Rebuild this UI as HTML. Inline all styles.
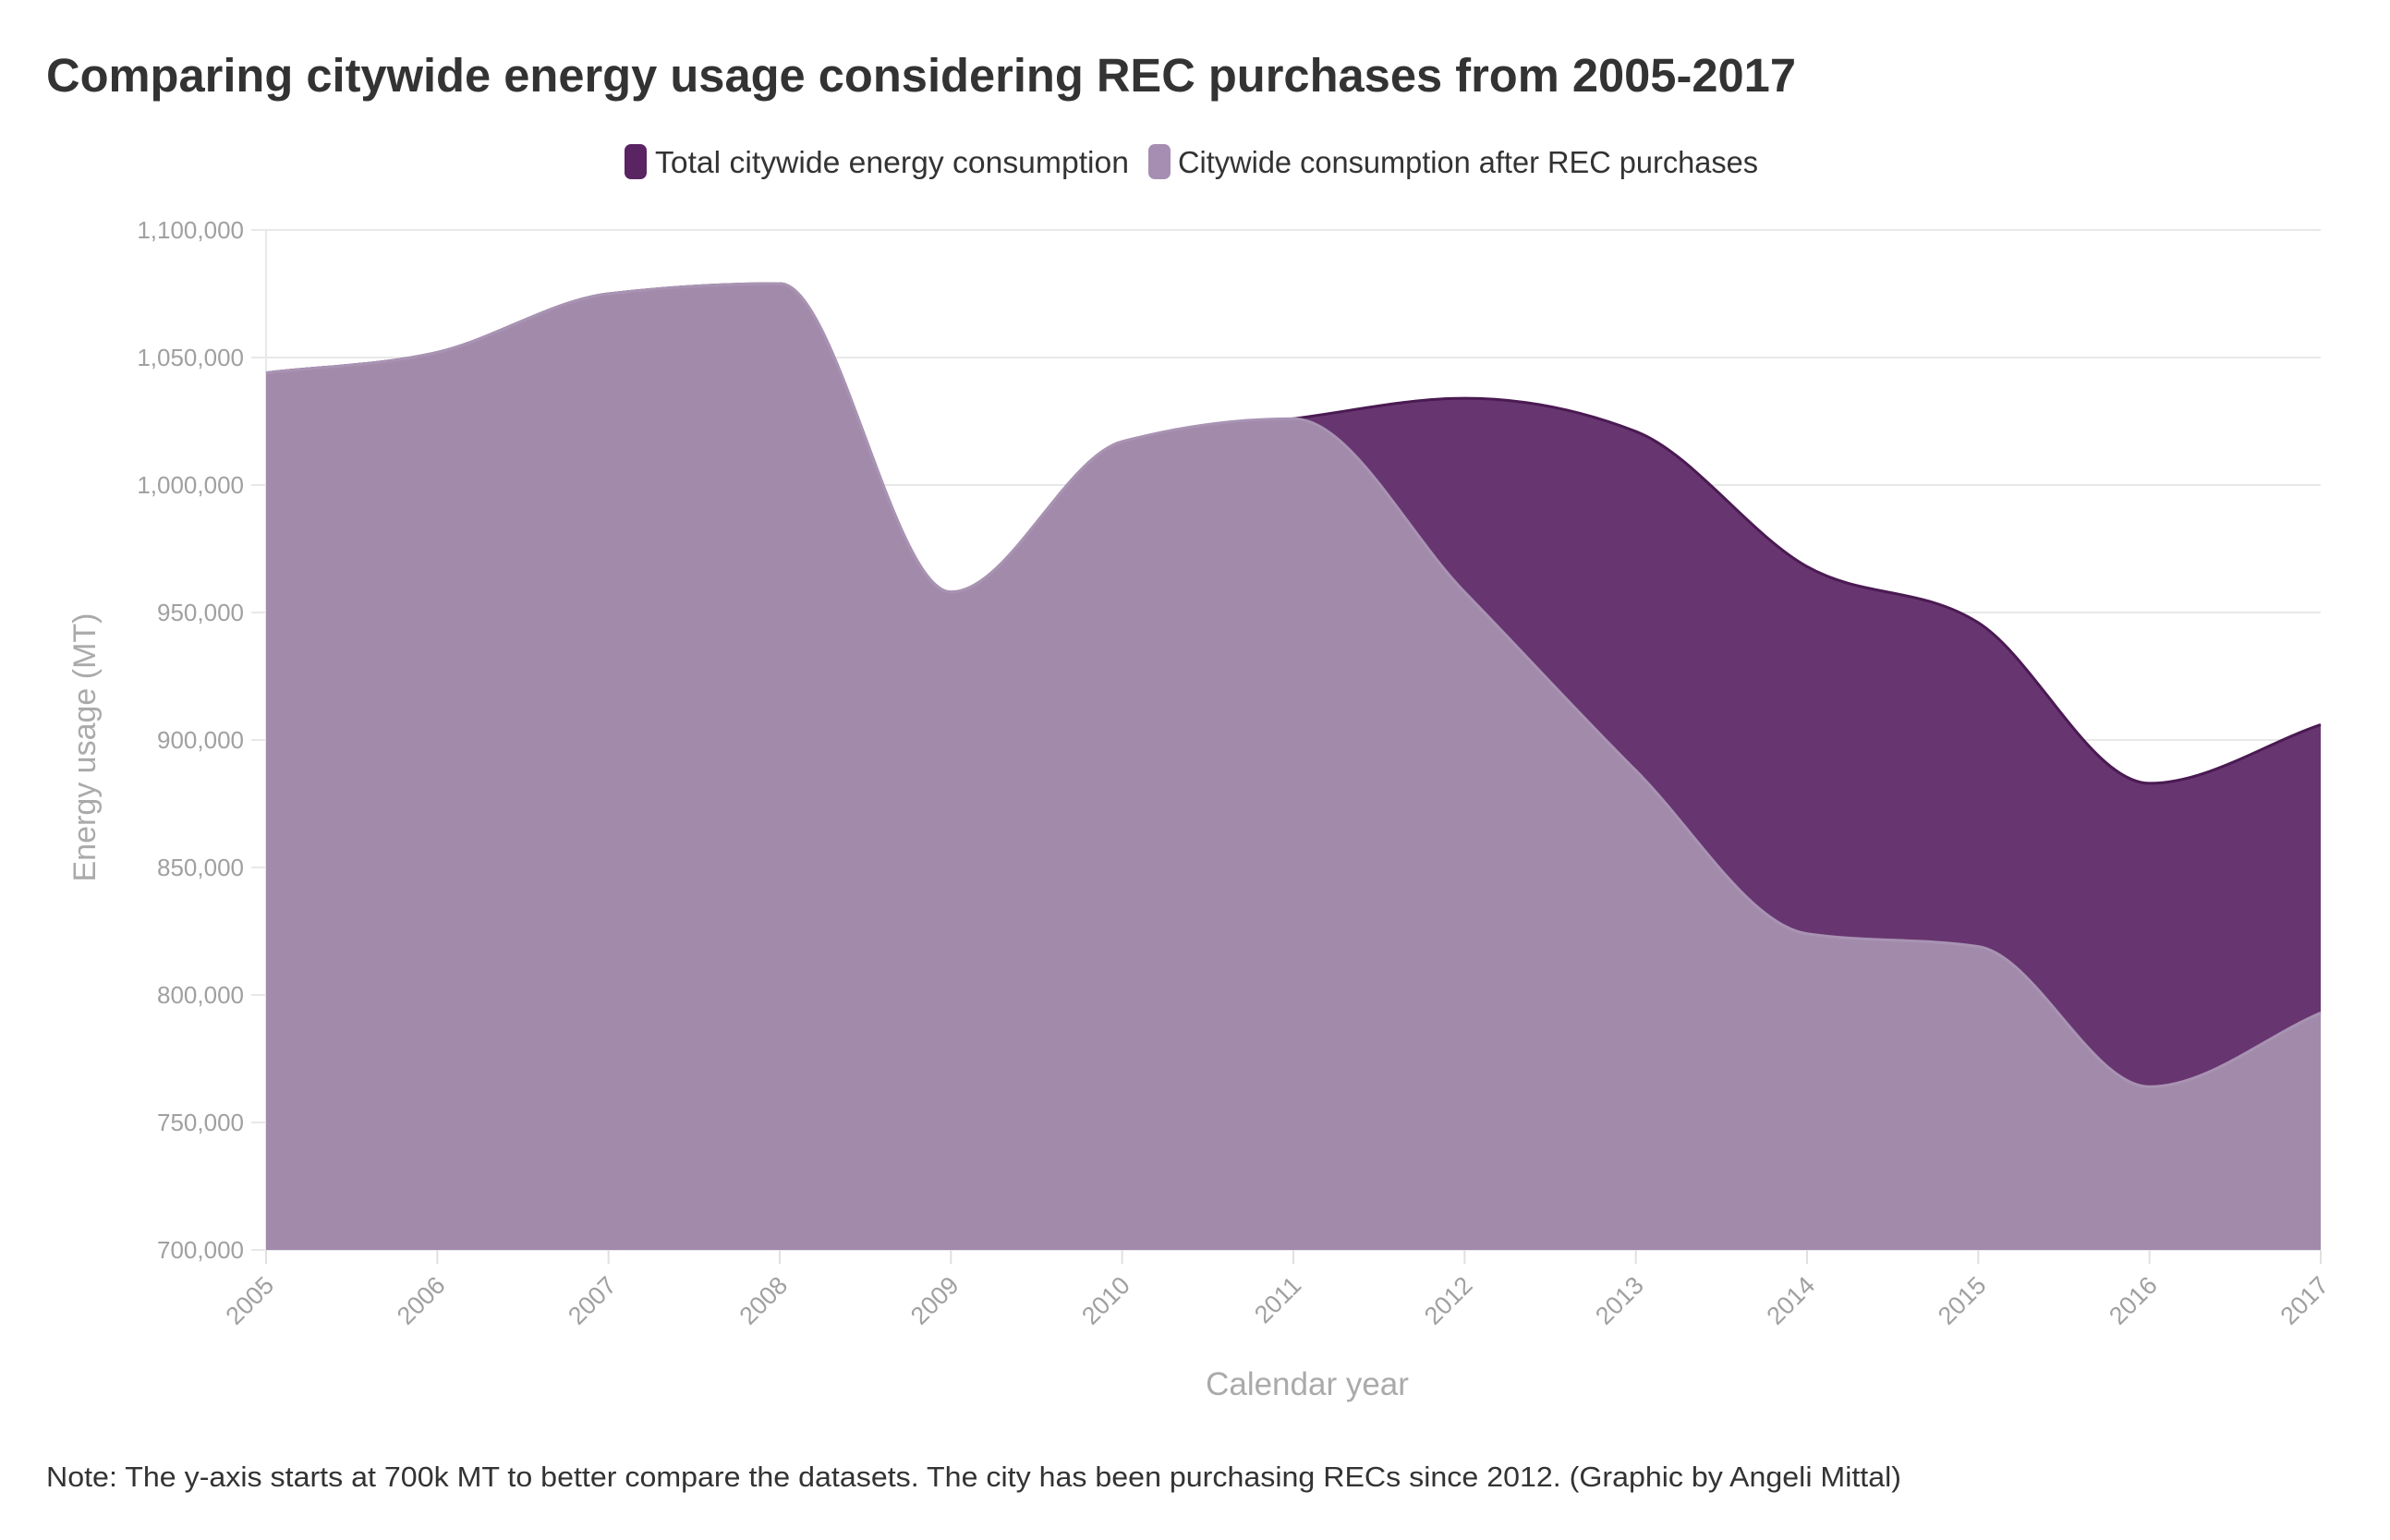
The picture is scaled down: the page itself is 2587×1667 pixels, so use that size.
<!DOCTYPE html>
<html><head><meta charset="utf-8"><style>
html,body{margin:0;padding:0;background:#fff;}
svg{display:block;font-family:"Liberation Sans",sans-serif;}
</style></head><body>
<svg id="chart" width="2587" height="1667" viewBox="0 0 2587 1667" xmlns="http://www.w3.org/2000/svg">
<text x="50" y="99" font-size="51" font-weight="bold" fill="#333" textLength="1894" lengthAdjust="spacingAndGlyphs">Comparing citywide energy usage considering REC purchases from 2005-2017</text>
<g>
<rect x="676" y="156" width="24" height="38" rx="7" fill="#5a2463"/>
<text x="709" y="187" font-size="33" fill="#333" textLength="513" lengthAdjust="spacingAndGlyphs">Total citywide energy consumption</text>
<rect x="1243" y="156" width="24" height="38" rx="7" fill="#a58eb1"/>
<text x="1275" y="187" font-size="33" fill="#333" textLength="628" lengthAdjust="spacingAndGlyphs">Citywide consumption after REC purchases</text>
</g>
<g id="grid"></g>
<g id="areas"></g>
<g id="axes"></g>
<text transform="translate(103,809) rotate(-90)" text-anchor="middle" font-size="34" fill="#aaa">Energy usage (MT)</text>
<text x="1415" y="1524" text-anchor="middle" font-size="35" fill="#aaa" transform="translate(0,-14)">Calendar year</text>
<text x="50" y="1623" font-size="31" fill="#333" textLength="2008" lengthAdjust="spacingAndGlyphs" transform="translate(0,-14)">Note: The y-axis starts at 700k MT to better compare the datasets. The city has been purchasing RECs since 2012. (Graphic by Angeli Mittal)</text>
</svg>
<script>
const years = [2005,2006,2007,2008,2009,2010,2011,2012,2013,2014,2015,2016,2017];
const totalConsumption = [1044000,1052000,1075000,1079000,958000,1017000,1026000,1034000,1021000,968000,946000,883000,906000];
const afterRecConsumption = [1044000,1052000,1075000,1079000,958000,1017000,1026000,958000,888000,824000,819000,764000,793000];
const yTicks = [700000,750000,800000,850000,900000,950000,1000000,1050000,1100000];
const yTickLabels = ["700,000","750,000","800,000","850,000","900,000","950,000","1,000,000","1,050,000","1,100,000"];

const NS="http://www.w3.org/2000/svg";
const X0=288,X1=2512,Y0=1353,Y1=249,YMIN=700000,YMAX=1100000;
const xs=v=>X0+(v-years[0])/(years[years.length-1]-years[0])*(X1-X0);
const ys=v=>Y0-(v-YMIN)/(YMAX-YMIN)*(Y0-Y1);
function mk(tag,attrs,parent){const e=document.createElementNS(NS,tag);for(const k in attrs)e.setAttribute(k,attrs[k]);parent.appendChild(e);return e;}

function monotonePath(px,py){
  const n=px.length,d=[],m=[];
  for(let i=0;i<n-1;i++)d.push((py[i+1]-py[i])/(px[i+1]-px[i]));
  m[0]=d[0];m[n-1]=d[n-2];
  for(let i=1;i<n-1;i++){
    if(d[i-1]*d[i]<=0)m[i]=0;
    else{const h0=px[i]-px[i-1],h1=px[i+1]-px[i];
      const s=(d[i-1]*h1+d[i]*h0)/(h0+h1);
      m[i]=Math.sign(s)*Math.min(Math.abs(s),2*Math.min(Math.abs(d[i-1]),Math.abs(d[i])));}
  }
  let p="M"+px[0]+","+py[0];
  for(let i=0;i<n-1;i++){const h=(px[i+1]-px[i])/3;
    p+=" C"+(px[i]+h)+","+(py[i]+m[i]*h)+" "+(px[i+1]-h)+","+(py[i+1]-m[i+1]*h)+" "+px[i+1]+","+py[i+1];}
  return p;
}

const grid=document.getElementById('grid');
yTicks.forEach((t,i)=>{
  const g=mk('line',{x1:272,x2:X1,y1:ys(t),y2:ys(t),stroke:'#e8e8e8','stroke-width':2},grid);
  
  
  const tx=mk('text',{x:264,y:ys(t)+9,'text-anchor':'end','font-size':26,fill:'#a0a0a0'},grid);
  tx.textContent=yTickLabels[i];
  
  
});
const yl=mk('line',{x1:X0,x2:X0,y1:Y1,y2:Y0,stroke:'#e8e8e8','stroke-width':2},grid);



const areas=document.getElementById('areas');
const px=years.map(xs);
const tp=monotonePath(px,totalConsumption.map(ys));
const ap=monotonePath(px,afterRecConsumption.map(ys));
const a1=mk('path',{d:tp+" L"+X1+","+Y0+" L"+X0+","+Y0+" Z",fill:'#673670'},areas);


const l1=mk('path',{d:tp,fill:'none',stroke:'#4a1a52','stroke-width':3},areas);


const a2=mk('path',{d:ap+" L"+X1+","+Y0+" L"+X0+","+Y0+" Z",fill:'#a28aab'},areas);


const l2=mk('path',{d:ap,fill:'none',stroke:'#a993b3','stroke-width':3},areas);



const axes=document.getElementById('axes');
years.forEach(y=>{
  const x=xs(y);
  const tk=mk('line',{x1:x,x2:x,y1:Y0,y2:Y0+15,stroke:'#e0e0e0','stroke-width':2},axes);
  
  
  const t=mk('text',{transform:'translate('+(x+10)+','+(Y0+40)+') rotate(-45)','text-anchor':'end','font-size':27,fill:'#a0a0a0'},axes);
  t.textContent=y;
  
  
});
</script>
</body></html>
